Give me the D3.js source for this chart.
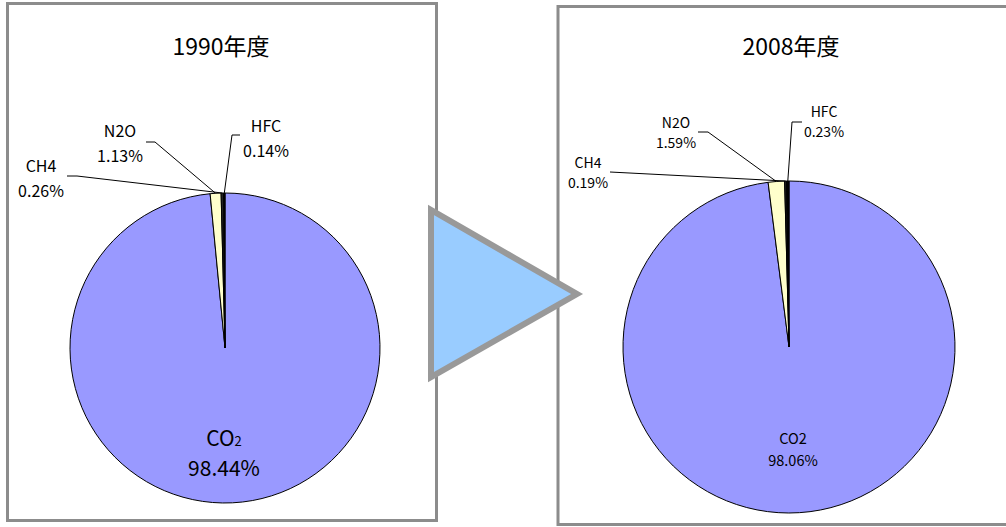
<!DOCTYPE html>
<html><head><meta charset="utf-8">
<script src="https://cdn.jsdelivr.net/npm/d3@7/dist/d3.min.js"></script>
<style>body{margin:0;background:#fff}svg{display:block}</style>
</head><body>
<svg id="c" width="1006" height="527"></svg>
<script>
const categories = ["CO2", "N2O", "CH4", "HFC"];
const values1990 = [98.44, 1.13, 0.26, 0.14];
const values2008 = [98.06, 1.59, 0.19, 0.23];
const titles = ["1990年度", "2008年度"];
const colors = ["#9999ff", "#ffffcc", "#222222", "#000000"];

const svg = d3.select("#c");
const font = "'Noto Sans CJK JP','DejaVu Sans',sans-serif";

const panels = [
  {values: values1990, title: titles[0], box:[7.5,3.5,429,517], cx:225, cy:348, r:155, fs:16, coFs:21,
   titleX:221, titleY:55,
   co:{x:224, y1:446, y2:476, sub:true},
   labels:{
     CH4:{x:41, y1:172, y2:197, path:[[67,176],[77,176]]},
     N2O:{x:120, y1:137, y2:162, path:[[146,142],[155,142]]},
     HFC:{x:266, y1:132, y2:157, path:[[240,135],[232,135]]}
   }},
  {values: values2008, title: titles[1], box:[558,6.5,470,518], cx:789, cy:347, r:166, fs:14, coFs:14.5,
   titleX:791, titleY:55,
   co:{x:793, y1:444, y2:466, sub:false},
   labels:{
     CH4:{x:588, y1:168, y2:188, path:[[610,172]]},
     N2O:{x:676, y1:128, y2:148, path:[[698,132],[708,132]]},
     HFC:{x:824, y1:117, y2:137, path:[[802,122],[792,122]]}
   }}
];

panels.forEach(p => {
  const g = svg.append("g");
  g.append("rect").attr("x",p.box[0]).attr("y",p.box[1]).attr("width",p.box[2]).attr("height",p.box[3])
    .attr("fill","#fff").attr("stroke","#8c8c8c").attr("stroke-width",3);
  g.append("text").attr("x",p.titleX).attr("y",p.titleY).attr("text-anchor","middle")
    .attr("font-family",font).attr("font-size",23).text(p.title);

  const pie = d3.pie().sort(null).startAngle(0).endAngle(2*Math.PI);
  const arcs = pie(p.values);
  const arc = d3.arc().innerRadius(0).outerRadius(p.r);
  const pg = g.append("g").attr("transform",`translate(${p.cx},${p.cy})`);
  pg.selectAll("path").data(arcs).join("path")
    .attr("d",arc).attr("fill",(d,i)=>colors[i]).attr("stroke","#000").attr("stroke-width",1);

  arcs.forEach((d,i) => {
    const name = categories[i];
    if (name === "CO2") return;
    const L = p.labels[name];
    const mid = (d.startAngle + d.endAngle)/2;
    const ex = p.cx + Math.sin(mid)*p.r, ey = p.cy - Math.cos(mid)*p.r;
    const pts = L.path.concat([[ex,ey]]);
    g.append("path").attr("d", d3.line()(pts)).attr("fill","none").attr("stroke","#000").attr("stroke-width",1);
    g.append("text").attr("x",L.x).attr("y",L.y1).attr("text-anchor","middle")
      .attr("font-family",font).attr("font-size",p.fs).text(name);
    g.append("text").attr("x",L.x).attr("y",L.y2).attr("text-anchor","middle")
      .attr("font-family",font).attr("font-size",p.fs).text(d3.format(".2f")(d.data)+"%");
  });

  const t = g.append("text").attr("x",p.co.x).attr("y",p.co.y1).attr("text-anchor","middle")
    .attr("font-family",font).attr("font-size",p.coFs);
  if (p.co.sub) {
    t.append("tspan").text("CO");
    t.append("tspan").attr("font-size",p.coFs*0.62).text("2");
  } else {
    t.text("CO2");
  }
  g.append("text").attr("x",p.co.x).attr("y",p.co.y2).attr("text-anchor","middle")
    .attr("font-family",font).attr("font-size",p.coFs).text(d3.format(".2f")(p.values[0])+"%");
});

svg.append("polygon").attr("points","431,210 431,377 577,294")
  .attr("fill","#99ccff").attr("stroke","#999999").attr("stroke-width",6).attr("stroke-linejoin","miter");
</script>
</body></html>
